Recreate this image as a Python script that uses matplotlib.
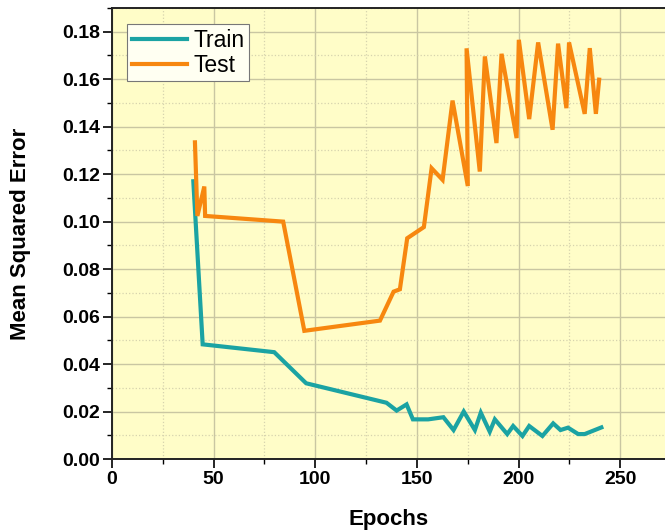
import matplotlib
matplotlib.use("Agg")
import matplotlib.pyplot as plt
import matplotlib.ticker as ticker

# ── Data ────────────────────────────────────────────────────────────────────
train_epochs = [40, 44.6, 79.8, 95.5, 135, 140, 144.9, 148, 155.5, 163, 168,
                173, 178.5, 181.4, 185.8, 188.3, 194.4, 197.3, 201.9, 205.2,
                211.7, 217, 220.6, 224.3, 229.3, 232.5, 240.7]
train_mse = [0.117, 0.0483, 0.045, 0.0319, 0.0237, 0.0204, 0.023, 0.0167,
             0.0167, 0.0176, 0.0122, 0.020, 0.0122, 0.0195, 0.0115, 0.0167,
             0.0105, 0.0139, 0.0097, 0.0139, 0.0097, 0.015, 0.0122, 0.0132,
             0.0105, 0.0105, 0.0133]

test_epochs = [40.8, 42, 45.4, 45.8, 84.2, 94.6, 131.8, 138.5, 141.6, 145.2,
               153.4, 157.2, 162.6, 167.5, 175.0, 174.4, 180.9, 183.4, 189.1,
               191.6, 199, 200.1, 205.2, 209.6, 216.7, 219.4, 223.5, 224.8,
               232.5, 235, 238, 239.6]
test_mse = [0.1334, 0.1024, 0.1148, 0.1024, 0.100, 0.054, 0.0583, 0.0705,
            0.0715, 0.093, 0.0977, 0.1225, 0.1176, 0.151, 0.115, 0.173,
            0.1211, 0.1696, 0.1331, 0.1707, 0.1352, 0.1766, 0.1432, 0.1755,
            0.1387, 0.175, 0.1478, 0.1755, 0.1454, 0.1731, 0.1454, 0.1598]

TEAL   = "#1BA3A3"
ORANGE = "#F7870F"

plt.rcParams["font.family"] = ["Liberation Sans", "DejaVu Sans"]

fig = plt.figure(figsize=(6.65, 5.32), dpi=100)
ax = fig.add_axes([112 / 665, 73 / 532, 1 - 112 / 665, (459 - 8) / 532])
ax.set_facecolor("#FFFDC8")

ax.plot(train_epochs, train_mse, color=TEAL, linewidth=3.0, label="Train",
        solid_joinstyle="miter", zorder=3)
ax.plot(test_epochs, test_mse, color=ORANGE, linewidth=3.0, label="Test",
        solid_joinstyle="miter", zorder=3)

ax.set_xlim(0, 272)
ax.set_ylim(0, 0.19)
ax.xaxis.set_major_locator(ticker.MultipleLocator(50))
ax.xaxis.set_minor_locator(ticker.MultipleLocator(25))
ax.yaxis.set_major_locator(ticker.MultipleLocator(0.02))
ax.yaxis.set_minor_locator(ticker.MultipleLocator(0.01))
ax.yaxis.set_major_formatter(ticker.FormatStrFormatter("%.2f"))

ax.grid(which="major", color="#C9C6A2", linestyle="-", linewidth=1.0, zorder=0)
ax.grid(which="minor", color="#D6D3AE", linestyle=":", linewidth=0.9, zorder=0)
ax.set_axisbelow(True)

ax.tick_params(which="major", direction="out", length=6.5, width=1.2,
               labelsize=14, pad=2)
ax.tick_params(which="minor", direction="out", length=3.6, width=1.0)
for lbl in ax.get_xticklabels() + ax.get_yticklabels():
    lbl.set_fontweight("bold")

ax.spines["right"].set_visible(False)
for s in ["left", "bottom", "top"]:
    ax.spines[s].set_linewidth(1.4)
    ax.spines[s].set_color("#222222")

ax.set_xlabel("Epochs", fontsize=16, fontweight="bold")
ax.set_ylabel("Mean Squared Error", fontsize=16, fontweight="bold")
ax.xaxis.set_label_coords(0.5, (459 - 509) / 451)
ax.yaxis.set_label_coords((31 - 112) / 553, 0.5)

leg = ax.legend(loc="upper left", bbox_to_anchor=(0.027, 0.9645),
                fontsize=16.5, handlelength=2.4, handletextpad=0.3,
                borderpad=0.2, labelspacing=0.1, borderaxespad=0,
                fancybox=False, framealpha=1.0,
                edgecolor="#777777", facecolor="#FFFFF2")
leg.get_frame().set_linewidth(0.8)

fig.savefig("out.png", dpi=100)
